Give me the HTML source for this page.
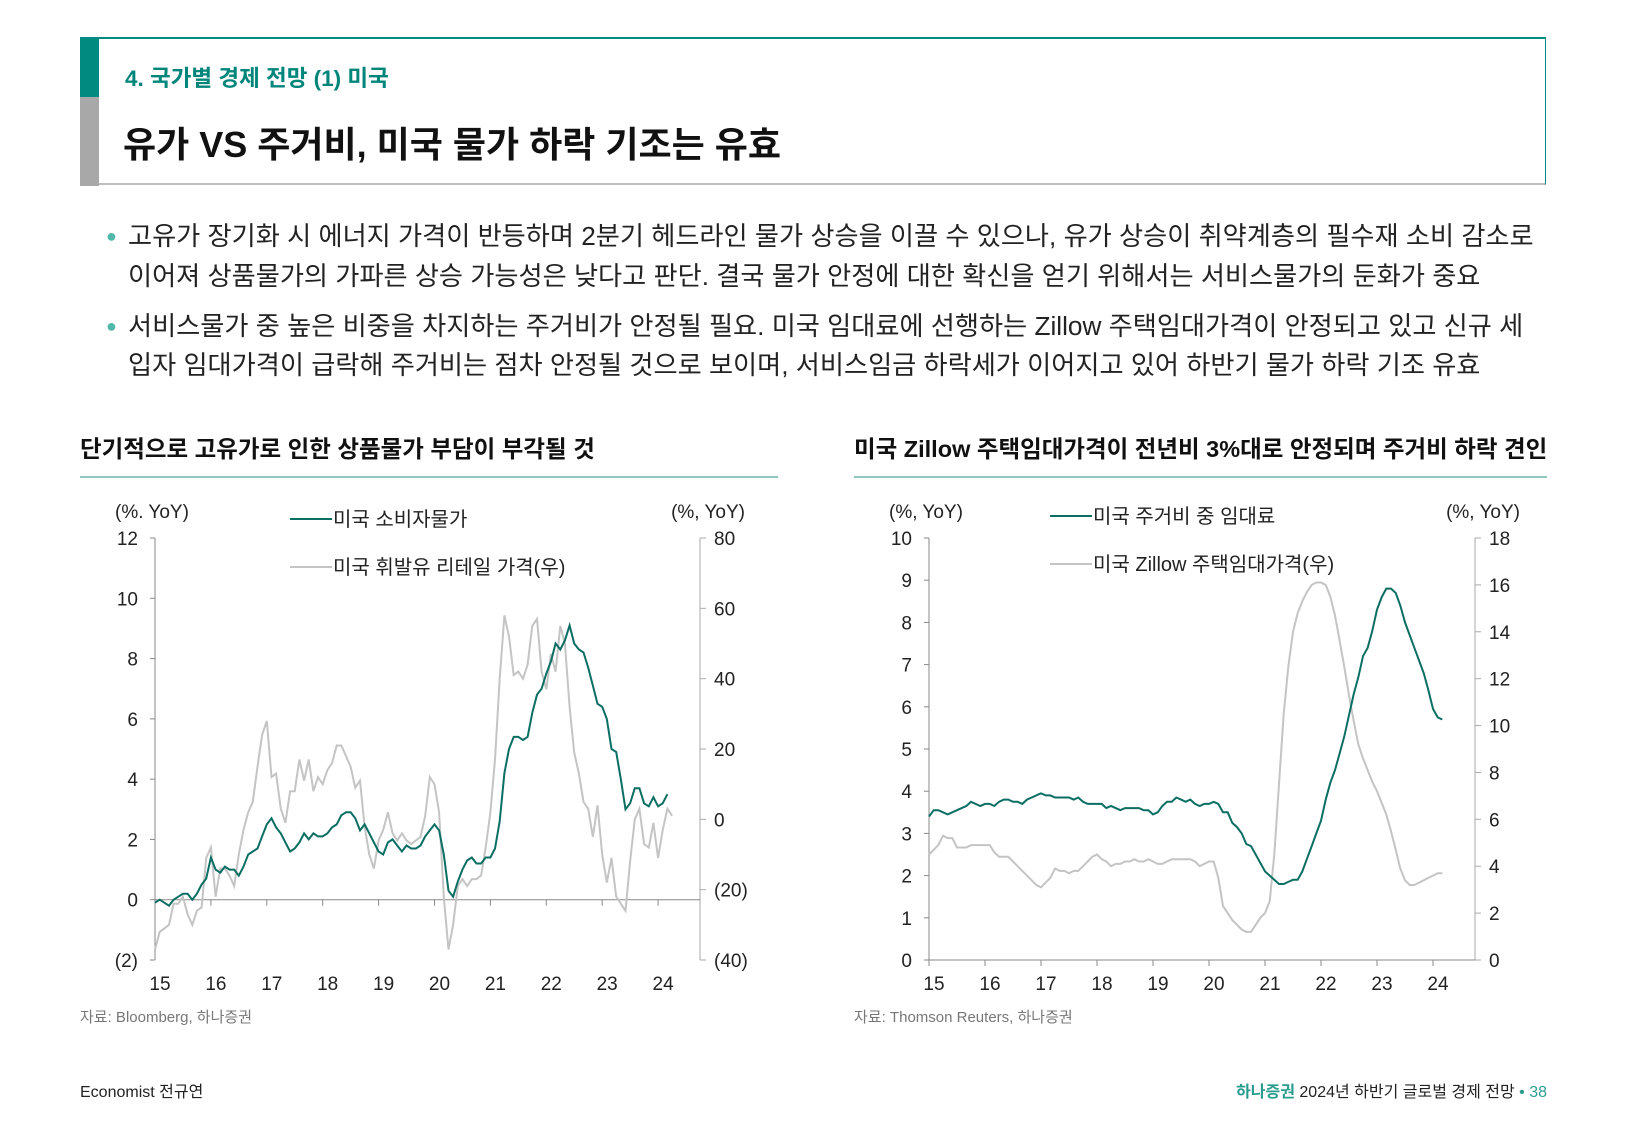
<!DOCTYPE html>
<html lang="ko"><head><meta charset="utf-8">
<style>
html,body{margin:0;padding:0;background:#fff;}
body{width:1625px;height:1125px;position:relative;overflow:hidden;font-family:"Liberation Sans","Noto Sans CJK KR",sans-serif;color:#222;}
.abs{position:absolute;white-space:nowrap;}
</style></head><body>
<div class="abs" style="left:80px;top:37px;width:1466px;height:148px;border-top:2px solid #008a80;border-right:1px solid #008a80;border-bottom:2px solid #bdbdbd;box-sizing:border-box;"></div>
<div class="abs" style="left:80px;top:37px;width:19px;height:60px;background:#008a80;"></div>
<div class="abs" style="left:80px;top:97px;width:19px;height:89px;background:#a8a8a8;"></div>
<div class="abs" style="left:125px;top:61px;font-size:22.5px;color:#00857a;font-weight:bold;">4. 국가별 경제 전망 (1) 미국</div>
<div class="abs" style="left:123px;top:116px;font-size:36px;font-weight:bold;color:#111;">유가 VS 주거비, 미국 물가 하락 기조는 유효</div>

<div class="abs" style="left:106px;top:216px;font-size:26.2px;line-height:40px;color:#222;">
<span style="color:#4fb8a8;font-size:18px;position:absolute;left:0;top:0;">●</span>
<div style="margin-left:22px;">고유가 장기화 시 에너지 가격이 반등하며 2분기 헤드라인 물가 상승을 이끌 수 있으나, 유가 상승이 취약계층의 필수재 소비 감소로<br>이어져 상품물가의 가파른 상승 가능성은 낮다고 판단. 결국 물가 안정에 대한 확신을 얻기 위해서는 서비스물가의 둔화가 중요</div></div>
<div class="abs" style="left:106px;top:307px;font-size:26.2px;line-height:39px;color:#222;">
<span style="color:#4fb8a8;font-size:18px;position:absolute;left:0;top:0;">●</span>
<div style="margin-left:22px;">서비스물가 중 높은 비중을 차지하는 주거비가 안정될 필요. 미국 임대료에 선행하는 Zillow 주택임대가격이 안정되고 있고 신규 세<br>입자 임대가격이 급락해 주거비는 점차 안정될 것으로 보이며, 서비스임금 하락세가 이어지고 있어 하반기 물가 하락 기조 유효</div></div>

<div class="abs" style="left:80px;top:430px;font-size:23.5px;font-weight:bold;color:#111;">단기적으로 고유가로 인한 상품물가 부담이 부각될 것</div>
<div class="abs" style="left:80px;top:476px;width:698px;height:2px;background:#8fc7bf;"></div>
<div class="abs" style="left:854px;top:430px;font-size:23.5px;font-weight:bold;color:#111;">미국 Zillow 주택임대가격이 전년비 3%대로 안정되며 주거비 하락 견인</div>
<div class="abs" style="left:854px;top:476px;width:693px;height:2px;background:#8fc7bf;"></div>

<svg id="charts" class="abs" style="left:0;top:0;" width="1625" height="1125" font-family="Liberation Sans, Noto Sans CJK KR, sans-serif"></svg>

<div class="abs" style="left:80px;top:1006px;font-size:15px;color:#777;">자료: Bloomberg, 하나증권</div>
<div class="abs" style="left:854px;top:1006px;font-size:15px;color:#777;">자료: Thomson Reuters, 하나증권</div>
<div class="abs" style="left:80px;top:1078px;font-size:16px;color:#222;">Economist 전규연</div>
<div class="abs" style="right:78px;top:1078px;font-size:16px;color:#222;"><span style="color:#2a9d8f;font-weight:bold;">하나증권</span> 2024년 하반기 글로벌 경제 전망 <span style="color:#2a9d8f;">•</span> <span style="color:#2a9d8f;">38</span></div>

<script>
const years = ["15","16","17","18","19","20","21","22","23","24"];
const cpi = [-0.1,0.0,-0.1,-0.2,0.0,0.1,0.2,0.2,0.0,0.2,0.5,0.7,
1.4,1.0,0.9,1.1,1.0,1.0,0.8,1.1,1.5,1.6,1.7,2.1,
2.5,2.7,2.4,2.2,1.9,1.6,1.7,1.9,2.2,2.0,2.2,2.1,
2.1,2.2,2.4,2.5,2.8,2.9,2.9,2.7,2.3,2.5,2.2,1.9,
1.6,1.5,1.9,2.0,1.8,1.6,1.8,1.7,1.7,1.8,2.1,2.3,
2.5,2.3,1.5,0.3,0.1,0.6,1.0,1.3,1.4,1.2,1.2,1.4,
1.4,1.7,2.6,4.2,5.0,5.4,5.4,5.3,5.4,6.2,6.8,7.0,
7.5,7.9,8.5,8.3,8.6,9.1,8.5,8.3,8.2,7.7,7.1,6.5,
6.4,6.0,5.0,4.9,4.0,3.0,3.2,3.7,3.7,3.2,3.1,3.4,
3.1,3.2,3.5];
const diesel = [-37,-32,-31,-30,-24,-24,-22,-27,-30,-26,-25,-11,
-8,-22,-14,-14,-16,-19,-10,-3,2,5,15,24,
28,12,13,3,-1,8,8,17,11,17,8,12,
10,14,16,21,21,18,15,9,11,-2,-10,-14,
-6,-3,2,-4,-6,-4,-6,-7,-6,-5,1,12,
10,2,-22,-37,-30,-19,-17,-19,-17,-17,-16,-8,
2,17,40,58,52,41,42,40,44,55,57,42,
37,47,42,55,50,32,19,13,5,3,-5,4,
-10,-18,-11,-22,-24,-26,-12,0,3,-7,-8,-1,
-11,-3,3,1];
const rent = [3.4,3.55,3.55,3.5,3.45,3.5,3.55,3.6,3.65,3.75,3.7,3.65,
3.7,3.7,3.65,3.75,3.8,3.8,3.75,3.75,3.7,3.8,3.85,3.9,
3.95,3.9,3.9,3.85,3.85,3.85,3.85,3.8,3.85,3.75,3.7,3.7,
3.7,3.7,3.6,3.65,3.6,3.55,3.6,3.6,3.6,3.6,3.55,3.55,
3.45,3.5,3.65,3.75,3.75,3.85,3.8,3.75,3.8,3.7,3.65,3.7,
3.7,3.75,3.7,3.5,3.5,3.25,3.15,3.0,2.75,2.7,2.5,2.3,
2.1,2.0,1.9,1.8,1.8,1.85,1.9,1.9,2.1,2.4,2.7,3.0,
3.3,3.8,4.2,4.5,4.9,5.3,5.8,6.3,6.7,7.2,7.4,7.8,
8.3,8.6,8.8,8.8,8.7,8.4,8.0,7.7,7.4,7.1,6.8,6.4,
5.95,5.75,5.7];
const zillow = [4.5,4.7,4.9,5.3,5.2,5.2,4.8,4.8,4.8,4.9,4.9,4.9,
4.9,4.9,4.6,4.4,4.4,4.4,4.2,4.0,3.8,3.6,3.4,3.2,
3.1,3.3,3.5,3.9,3.8,3.8,3.7,3.8,3.8,4.0,4.2,4.4,
4.5,4.3,4.2,4.0,4.1,4.1,4.2,4.2,4.3,4.2,4.2,4.3,
4.2,4.1,4.1,4.2,4.3,4.3,4.3,4.3,4.3,4.2,4.0,4.1,
4.2,4.2,3.5,2.3,2.0,1.7,1.5,1.3,1.2,1.2,1.5,1.8,
2.0,2.5,4.5,7.5,10.5,12.5,14.0,14.8,15.3,15.7,16.0,16.1,
16.1,16.0,15.5,14.7,13.6,12.5,11.3,10.2,9.2,8.6,8.1,7.6,
7.2,6.7,6.2,5.5,4.7,3.9,3.4,3.2,3.2,3.3,3.4,3.5,
3.6,3.7,3.7];
const leftTicksL = [-2,0,2,4,6,8,10,12];
const leftTicksR = [-40,-20,0,20,40,60,80];
const rightTicksL = [0,1,2,3,4,5,6,7,8,9,10];
const rightTicksR = [0,2,4,6,8,10,12,14,16,18];

const NS="http://www.w3.org/2000/svg";
const svg=document.getElementById('charts');
function el(tag,attrs,parent){const e=document.createElementNS(NS,tag);for(const k in attrs)e.setAttribute(k,attrs[k]);(parent||svg).appendChild(e);return e;}
function fmt(v){return v<0?"("+(-v)+")":String(v);}

function chart(cfg){
  const g=el('g',{});
  
  
  const X=t=>cfg.x0+(t-2015)/(cfg.tEnd-2015)*(cfg.x1-cfg.x0);
  const YL=v=>cfg.yb+(v-cfg.lmin)/(cfg.lmax-cfg.lmin)*(cfg.yt-cfg.yb);
  const YR=v=>cfg.yb+(v-cfg.rmin)/(cfg.rmax-cfg.rmin)*(cfg.yt-cfg.yb);
  const la=el('line',{x1:cfg.x0,y1:cfg.yt,x2:cfg.x0,y2:cfg.yb,stroke:'#888','stroke-width':1},g);
  
  const ra=el('line',{x1:cfg.x1,y1:cfg.yt,x2:cfg.x1,y2:cfg.yb,stroke:'#aaa','stroke-width':1},g);
  
  const xa=el('line',{x1:cfg.x0,y1:YL(cfg.xAxisVal),x2:cfg.x1,y2:YL(cfg.xAxisVal),stroke:'#888','stroke-width':1},g);
  
  cfg.tl.forEach(v=>{
    const y=YL(v);
    el('line',{x1:cfg.x0-5,y1:y,x2:cfg.x0,y2:y,stroke:'#888'},g);
    const t=el('text',{x:cfg.x0-17,y:y+7,'text-anchor':'end','font-size':19,fill:'#222'},g);
    
    t.textContent=fmt(v);
  });
  cfg.tr.forEach(v=>{
    const y=YR(v);
    el('line',{x1:cfg.x1,y1:y,x2:cfg.x1+6,y2:y,stroke:'#aaa'},g);
    const t=el('text',{x:cfg.x1+14,y:y+7,'text-anchor':'start','font-size':19,fill:'#222'},g);
    
    t.textContent=fmt(v);
  });
  years.forEach((yl,i)=>{
    const x=X(2015+i);const ya=YL(cfg.xAxisVal);
    el('line',{x1:x,y1:ya,x2:x,y2:ya+6,stroke:'#888'},g);
    const t=el('text',{x:x+5,y:cfg.yb+30,'text-anchor':'middle','font-size':19,fill:'#222'},g);
    
    t.textContent=yl;
  });
  const u1=el('text',{x:cfg.x0-40,y:cfg.yt-20,'font-size':19,fill:'#222'},g);
  
  u1.textContent=cfg.unitL;
  const u2=el('text',{x:cfg.x1+45,y:cfg.yt-20,'text-anchor':'end','font-size':19,fill:'#222'},g);
  
  u2.textContent=cfg.unitR;
  const ptsR=cfg.sR.map((v,i)=>X(2015+i/12).toFixed(1)+','+YR(v).toFixed(1)).join(' ');
  const pr=el('polyline',{points:ptsR,fill:'none',stroke:'#c4c4c4','stroke-width':2},g);
  
  const ptsL=cfg.sL.map((v,i)=>X(2015+i/12).toFixed(1)+','+YL(v).toFixed(1)).join(' ');
  const pl=el('polyline',{points:ptsL,fill:'none',stroke:'#0b6e63','stroke-width':2},g);
  
  const lg=el('g',{},g);
  
  el('line',{x1:cfg.lgx,y1:cfg.lgy,x2:cfg.lgx+42,y2:cfg.lgy,stroke:'#0b6e63','stroke-width':2},lg);
  const l1=el('text',{x:cfg.lgx+43,y:cfg.lgy+7,'font-size':20,fill:'#222'},lg);
  
  l1.textContent=cfg.legL;
  el('line',{x1:cfg.lgx,y1:cfg.lgy+48,x2:cfg.lgx+42,y2:cfg.lgy+48,stroke:'#c4c4c4','stroke-width':2},lg);
  const l2=el('text',{x:cfg.lgx+43,y:cfg.lgy+55,'font-size':20,fill:'#222'},lg);
  
  l2.textContent=cfg.legR;
}
chart({name:'cpi-diesel-chart',x0:155,x1:700,yt:538,yb:960,tEnd:2024.75,lmin:-2,lmax:12,rmin:-40,rmax:80,
  tl:leftTicksL,tr:leftTicksR,xAxisVal:0,sL:cpi,sR:diesel,nameL:'cpi-line',nameR:'diesel-line',
  unitL:'(%. YoY)',unitR:'(%, YoY)',legL:'미국 소비자물가',legR:'미국 휘발유 리테일 가격(우)',lgx:290,lgy:519});
chart({name:'rent-zillow-chart',x0:929,x1:1475,yt:538,yb:960,tEnd:2024.75,lmin:0,lmax:10,rmin:0,rmax:18,
  tl:rightTicksL,tr:rightTicksR,xAxisVal:0,sL:rent,sR:zillow,nameL:'rent-cpi-line',nameR:'zillow-rent-line',
  unitL:'(%, YoY)',unitR:'(%, YoY)',legL:'미국 주거비 중 임대료',legR:'미국 Zillow 주택임대가격(우)',lgx:1050,lgy:516});
</script>
</body></html>
